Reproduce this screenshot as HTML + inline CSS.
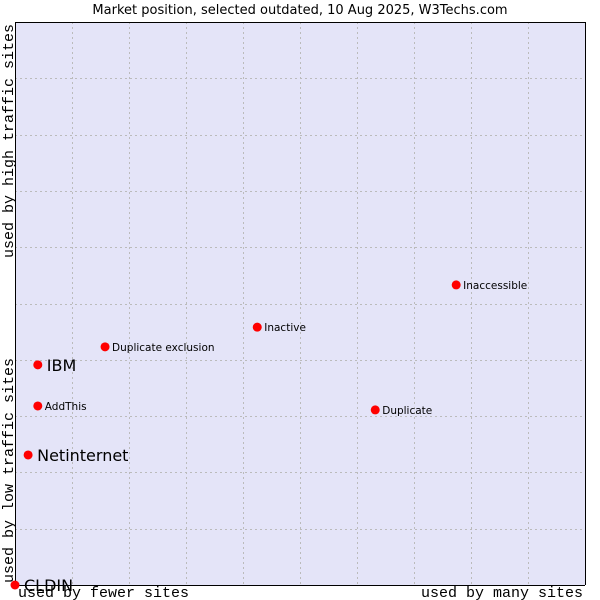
<!DOCTYPE html>
<html><head><meta charset="utf-8"><style>
body{margin:0;background:#fff;width:600px;height:600px;overflow:hidden}
svg{display:block;font-family:"DejaVu Sans","Liberation Sans",sans-serif}
</style></head><body>
<svg id="chart" width="600" height="600">
<text x="300" y="14" text-anchor="middle" font-size="13" fill="#000">Market position, selected outdated, 10 Aug 2025, W3Techs.com</text>
<rect x="15" y="22" width="570" height="563" fill="#e4e4f8"/>
<g id="grid"></g>
<line x1="15.5" y1="22" x2="15.5" y2="585" stroke="#000"/>
<line x1="15" y1="585.5" x2="585" y2="585.5" stroke="#000"/>
<line x1="15" y1="22.5" x2="585" y2="22.5" stroke="#000"/>
<line x1="585.5" y1="22" x2="585.5" y2="585" stroke="#000"/>
<g id="points"></g>
<text x="18" y="597" font-family="Liberation Mono,monospace" font-size="15">used by fewer sites</text>
<text x="583" y="597" text-anchor="end" font-family="Liberation Mono,monospace" font-size="15">used by many sites</text>
<text transform="translate(13,583) rotate(-90)" font-family="Liberation Mono,monospace" font-size="15">used by low traffic sites</text>
<text transform="translate(13,24) rotate(-90)" text-anchor="end" font-family="Liberation Mono,monospace" font-size="15">used by high traffic sites</text>
</svg>
<script>
const names=["CLDIN","Netinternet","IBM","AddThis","Duplicate exclusion","Inactive","Duplicate","Inaccessible"];
const xVals=[0,2.3,4.0,4.0,15.8,42.5,63.2,77.4];
const yVals=[0,23.1,39.1,31.8,42.3,45.8,31.1,53.3];
const bigLabel=[true,true,true,false,false,false,false,false];
const NS="http://www.w3.org/2000/svg";
const X=v=>15+v*5.7, Y=v=>585-v*5.63;
const grid=document.getElementById('grid');
for(let i=1;i<10;i++){
 const l=document.createElementNS(NS,'line');
 
 
 const x=Math.round(X(i*10))+0.5;
 l.setAttribute('x1',x);l.setAttribute('x2',x);l.setAttribute('y1',22);l.setAttribute('y2',585);
 l.setAttribute('stroke','#bbb');l.setAttribute('stroke-dasharray','2,3');grid.appendChild(l);
 const h=document.createElementNS(NS,'line');
 
 
 const y=Math.round(Y(i*10))+0.5;
 h.setAttribute('x1',15);h.setAttribute('x2',585);h.setAttribute('y1',y);h.setAttribute('y2',y);
 h.setAttribute('stroke','#bbb');h.setAttribute('stroke-dasharray','2,3');grid.appendChild(h);
}
const pts=document.getElementById('points');
names.forEach((n,i)=>{
 const cx=X(xVals[i]),cy=Y(yVals[i]);
 const p=document.createElementNS(NS,'circle');
 
 
 p.setAttribute('cx',cx);p.setAttribute('cy',cy);p.setAttribute('r',4.5);
 p.setAttribute('fill','#f00');pts.appendChild(p);
 const t=document.createElementNS(NS,'text');
 
 
 t.setAttribute('x',cx+(bigLabel[i]?9:7));
 t.setAttribute('y',cy+(bigLabel[i]?6:4));
 t.setAttribute('font-size',bigLabel[i]?16:10.5);
 t.textContent=n;pts.appendChild(t);
});
</script>
</body></html>
